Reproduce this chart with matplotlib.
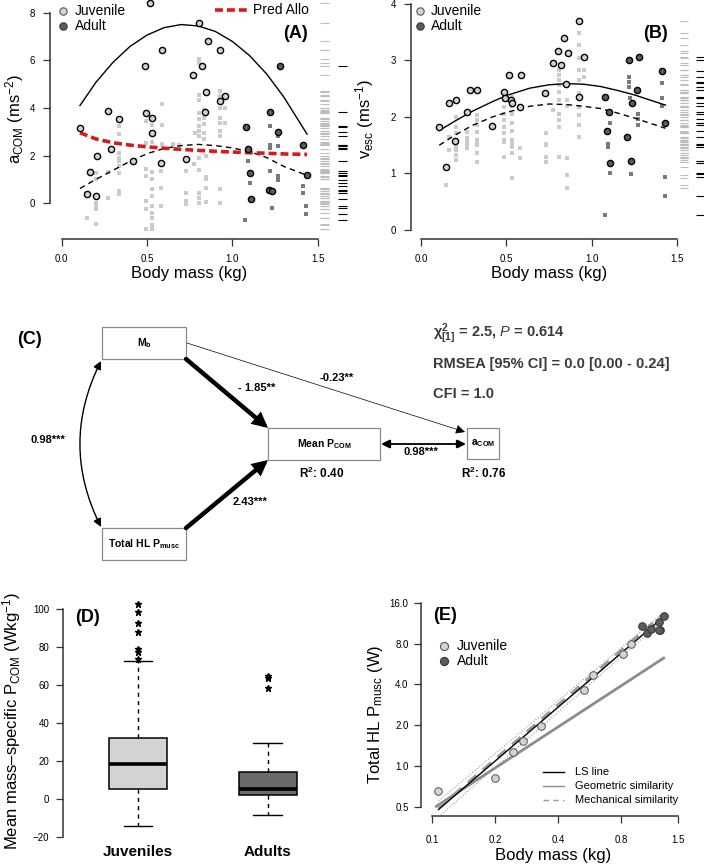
import matplotlib
matplotlib.use("Agg")
import matplotlib.pyplot as plt
import matplotlib.transforms as mtrans
from matplotlib.patches import FancyArrowPatch, Rectangle

plt.rcParams["font.family"] = ["Liberation Sans", "DejaVu Sans"]
plt.rcParams["mathtext.fontset"] = "custom"
plt.rcParams["mathtext.rm"] = "Liberation Sans"
plt.rcParams["mathtext.it"] = "Liberation Sans:italic"
plt.rcParams["mathtext.bf"] = "Liberation Sans:bold"
plt.rcParams["mathtext.default"] = "regular"

W, H = 704, 867

# ---- panel A: a_COM vs body mass ----
a_juv_mean_x = [0.107, 0.271, 0.333, 0.487, 0.515, 0.585, 0.493, 0.530, 0.530, 0.287,
                0.807, 0.856, 0.926, 0.819, 0.770, 0.848, 0.955, 0.930, 0.838,
                0.205, 0.164, 0.146, 0.203, 0.419, 0.579, 0.729]
a_juv_mean_y = [3.17, 3.89, 3.54, 5.77, 8.40, 6.44, 3.79, 3.58, 2.93, 2.28,
                7.56, 6.82, 6.44, 5.75, 5.40, 4.66, 4.49, 4.31, 3.82,
                1.98, 1.31, 0.38, 0.31, 1.77, 1.67, 1.87]
a_ad_mean_x = [1.277, 1.222, 1.080, 1.267, 1.413, 1.092, 1.105, 1.216, 1.234, 1.111, 1.437]
a_ad_mean_y = [5.77, 3.82, 3.19, 3.00, 2.43, 2.26, 1.28, 0.54, 0.51, 0.17, 1.17]
a_ad_trial_x = [1.092, 1.105, 1.222, 1.267, 1.267, 1.234, 1.076, 1.411, 1.411, 1.433,
                1.433, 1.222, 1.267, 1.222, 1.267, 1.222]
a_ad_trial_y = [1.77, 0.87, 1.35, 1.14, 0.97, -0.21, -0.71, 0.72, 0.42, -0.11,
                -0.46, 2.33, 2.40, 3.26, 2.82, 2.44]
a_juv_trial_x = [0.146,
                 0.203, 0.203, 0.203, 0.203, 0.203, 0.203,
                 0.271, 0.271,
                 0.335, 0.335, 0.335, 0.335, 0.335, 0.335, 0.335, 0.335, 0.335,
                 0.491, 0.491, 0.491, 0.491, 0.491, 0.491, 0.491,
                 0.530, 0.530, 0.530, 0.530, 0.530, 0.530, 0.530, 0.530, 0.530, 0.530, 0.530,
                 0.579, 0.579, 0.579, 0.585, 0.585, 0.585,
                 0.729, 0.729, 0.729, 0.729, 0.774, 0.780,
                 0.803, 0.803, 0.803, 0.803, 0.803, 0.803, 0.803, 0.803, 0.803, 0.803,
                 0.803, 0.803, 0.803, 0.803,
                 0.832, 0.832, 0.832, 0.832, 0.832,
                 0.848, 0.848, 0.848, 0.848, 0.848,
                 0.926, 0.926, 0.926, 0.926, 0.926, 0.926, 0.926, 0.926, 0.926,
                 0.955, 0.955, 0.650, 0.690]
a_juv_trial_y = [-0.63,
                 1.28, 1.00, 0.03, -0.11, -0.25, -0.88,
                 0.20, 1.30,
                 2.12, 1.91, 1.77, 1.56, 1.28, 0.51, 0.38, 3.26, 2.92,
                 1.42, 1.14, 0.10, -0.25, -1.06, 3.44, 2.54,
                 1.30, 1.00, 0.60, 0.30, -0.10, -0.40, -0.60, -0.90, -1.10, 3.30, 2.55,
                 1.35, 0.66, -0.11, 4.18, 3.30, 2.47,
                 1.35, 0.45, 0.10, -0.04, 1.63, 2.96,
                 1.38, 0.41, 0.24, 0.00, 1.91, 6.05, 5.89, 4.56, 4.35, 3.79,
                 3.54, 3.23, 3.03, 2.82,
                 3.93, 3.59, 3.31, 2.96, 2.68,
                 1.12, 1.00, 0.62, 0.05, 2.00,
                 0.59, 0.00, 4.70, 4.49, 4.00, 3.59, 3.38, 3.03, 2.82,
                 4.00, 3.38, 2.50, 2.45]
a_fit_x = [0.107, 0.2, 0.3, 0.4, 0.5, 0.6, 0.7, 0.8, 0.9, 1.0, 1.1, 1.2, 1.3, 1.437]
a_juv_fit_y = [4.10, 5.07, 5.91, 6.58, 7.06, 7.37, 7.50, 7.44, 7.21, 6.79, 6.20, 5.43, 4.47, 2.90]
a_ad_fit_y = [0.62, 1.00, 1.38, 1.76, 2.08, 2.30, 2.42, 2.47, 2.42, 2.32, 2.17, 1.92, 1.55, 1.17]
a_allo_y = [2.96, 2.70, 2.54, 2.44, 2.37, 2.31, 2.26, 2.22, 2.18, 2.15, 2.12, 2.10, 2.07, 2.05]

# ---- panel B: v_esc vs body mass ----
b_juv_mean_x = [0.107, 0.164, 0.205, 0.287, 0.329, 0.271, 0.201, 0.417, 0.487, 0.491,
                0.515, 0.528, 0.585, 0.579, 0.144,
                0.924, 0.838, 0.803, 0.858, 0.770, 0.817, 0.953, 0.846, 0.727, 0.926, 0.530]
b_juv_mean_y = [1.83, 2.24, 2.30, 2.47, 2.47, 2.08, 1.58, 1.84, 2.45, 2.33,
                2.75, 2.30, 2.75, 2.18, 1.11,
                3.70, 3.39, 3.17, 3.13, 2.96, 2.92, 3.07, 2.58, 2.43, 2.35, 2.25]
b_ad_mean_x = [1.076, 1.218, 1.275, 1.411, 1.267, 1.101, 1.236, 1.090, 1.208, 1.431, 1.109, 1.232]
b_ad_mean_y = [2.36, 3.01, 3.06, 2.82, 2.48, 2.09, 2.24, 1.75, 1.65, 1.90, 1.19, 1.23]
b_ad_trial_x = [1.218, 1.218, 1.218, 1.222, 1.271, 1.271, 1.271, 1.411, 1.411, 1.411,
                1.105, 1.095, 1.095, 1.095, 1.109, 1.232, 1.076, 1.431, 1.431]
b_ad_trial_y = [2.71, 2.62, 2.53, 2.33, 2.06, 1.97, 1.86, 2.60, 2.33, 2.19,
                1.90, 1.53, 1.47, 1.50, 1.00, 0.99, 0.27, 0.93, 0.60]
b_juv_trial_x = [0.144, 0.164, 0.164,
                 0.205, 0.205, 0.205, 0.205, 0.205, 0.205, 0.205, 0.205,
                 0.271, 0.271, 0.271, 0.271, 0.271,
                 0.329, 0.329, 0.329, 0.329, 0.329, 0.329, 0.329, 0.329, 0.329,
                 0.487, 0.487, 0.487, 0.487, 0.487, 0.487, 0.487, 0.487, 0.487,
                 0.530, 0.530, 0.530, 0.530, 0.530, 0.530, 0.530, 0.530, 0.530, 0.530,
                 0.579, 0.579,
                 0.729, 0.729, 0.729, 0.729, 0.729,
                 0.810, 0.810, 0.810, 0.810, 0.810, 0.810, 0.810, 0.810, 0.810, 0.810,
                 0.852, 0.852, 0.852, 0.852, 0.852,
                 0.924, 0.924, 0.924, 0.924, 0.924, 0.924, 0.924, 0.924, 0.924, 0.924,
                 0.953, 0.953, 0.774]
b_juv_trial_y = [0.80, 1.65, 1.42,
                 2.00, 1.83, 1.71, 1.59, 1.47, 1.42, 1.33, 1.24,
                 1.74, 1.63, 1.55, 1.53, 1.45,
                 2.04, 1.95, 1.86, 1.74, 1.59, 1.50, 1.53, 1.37, 1.21,
                 2.30, 2.18, 2.06, 1.95, 1.83, 1.71, 1.59, 1.56, 1.30,
                 2.36, 2.20, 2.05, 1.90, 1.75, 1.60, 1.53, 1.47, 1.36, 0.92,
                 1.45, 1.27,
                 1.71, 1.53, 1.50, 1.30, 1.21,
                 2.83, 2.74, 2.65, 2.57, 2.45, 2.30, 2.06, 1.95, 1.83, 1.30,
                 2.30, 2.20, 1.27, 0.97, 0.75,
                 3.48, 3.27, 3.04, 2.83, 2.65, 2.42, 2.18, 2.04, 1.86, 1.65,
                 2.83, 2.71, 2.12]
b_fit_x = [0.107, 0.2, 0.3, 0.417, 0.5, 0.637, 0.75, 0.85, 0.95, 1.05, 1.15, 1.25, 1.35, 1.431]
b_juv_fit_y = [1.76, 1.93, 2.10, 2.27, 2.38, 2.51, 2.57, 2.59, 2.58, 2.54, 2.47, 2.39, 2.29, 2.21]
b_ad_fit_y = [1.50, 1.68, 1.85, 2.00, 2.08, 2.19, 2.23, 2.22, 2.19, 2.15, 2.07, 1.98, 1.88, 1.80]

# ---- panel C: path model ----
c_coef_mb_pcom = "- 1.85**"
c_coef_pm_pcom = "2.43***"
c_coef_mb_acom = "-0.23**"
c_coef_pcom_acom = "0.98***"
c_coef_mb_pm = "0.98***"
c_r2_pcom = "0.40"
c_r2_acom = "0.76"
c_fit_lines = [r"$\chi^{2}_{[1]}$ = 2.5, $\mathit{P}$ = 0.614",
               "RMSEA [95% CI] = 0.0 [0.00 - 0.24]",
               "CFI = 1.0"]

# ---- panel D: boxplot of mass-specific P_COM ----
d_groups = ["Juveniles", "Adults"]
d_med = [18.3, 5.3]
d_q1 = [5.3, 2.1]
d_q3 = [32.3, 14.1]
d_whislo = [-14.0, -8.4]
d_whishi = [72.8, 29.6]
d_fliers = [[102.6, 98.4, 92.6, 88.0, 79.3, 77.7, 74.0], [64.9, 63.7, 58.7]]

# ---- panel E: total HL P_musc vs body mass ----
e_juv_x = [0.106, 0.199, 0.243, 0.272, 0.333, 0.530, 0.585, 0.817, 0.893]
e_juv_y = [0.648, 0.814, 1.26, 1.52, 1.98, 3.61, 4.71, 6.69, 7.97]
e_ad_x = [1.008, 1.064, 1.117, 1.211, 1.234, 1.220, 1.279]
e_ad_y = [10.7, 9.56, 10.29, 11.45, 10.11, 10.0, 12.8]
e_ls_x = [0.107, 1.28]
e_ls_y = [0.476, 12.6]
e_geo_x = [0.1045, 1.28]
e_geo_y = [0.503, 6.25]
e_mech_x = [0.107, 1.28]
e_mech_y = [0.49, 13.3]
e_ci_x = [0.107, 1.28]
e_ci_lo_y = [0.42, 12.0]
e_ci_hi_y = [0.55, 13.6]
e_line_labels = ["LS line", "Geometric similarity", "Mechanical similarity"]

JUV_FILL = "#d3d3d3"
JUV_TRIAL = "#cbcbcb"
AD_FILL = "#5c5c5c"
AD_TRIAL = "#7a7a7a"
AXC = "#333333"
RED = "#d7191c"
GEO = "#8c8c8c"
MECH = "#9a9a9a"


def rect(l, t, r, b):
    return [l / W, 1 - b / H, (r - l) / W, (b - t) / H]


def style_axis(ax, ypad=6):
    for s in ("top", "right"):
        ax.spines[s].set_visible(False)
    for s in ("left", "bottom"):
        ax.spines[s].set_linewidth(1.1)
        ax.spines[s].set_color(AXC)
    ax.tick_params(direction="out", length=5, width=0.9, labelsize=7, color=AXC)
    ax.tick_params(axis="x", pad=6)
    ax.tick_params(axis="y", pad=ypad)


def place_labels(ax, xl, yl):
    ax.xaxis.label.set_va("center")
    ax.yaxis.label.set_va("center")
    ax.xaxis.set_label_coords(*xl)
    ax.yaxis.set_label_coords(*yl)


def scatter_panel(ax, jt, at, jm, am, fits, rug_w):
    ax.scatter(*jt, s=7, marker="s", color=JUV_TRIAL, lw=0, zorder=2)
    ax.scatter(*at, s=7, marker="s", color=AD_TRIAL, lw=0, zorder=2)
    for fx, fy, ls, lw, col in fits:
        ax.plot(fx, fy, ls=ls, lw=lw, color=col, zorder=3)
    ax.scatter(*jm, s=20, color=JUV_FILL, edgecolor="black", lw=1.0, zorder=4)
    ax.scatter(*am, s=20, color=AD_FILL, edgecolor="black", lw=1.0, zorder=4)
    trans = mtrans.blended_transform_factory(ax.transAxes, ax.transData)
    ax.hlines(jt[1] + jm[1], 1.0, 1.0 + rug_w, transform=trans,
              color="#bdbdbd", lw=0.8, clip_on=False)
    ax.hlines(at[1] + am[1], 1.0 + 2 * rug_w, 1.0 + 3 * rug_w, transform=trans,
              color="black", lw=0.8, clip_on=False)
    ax.set_xticks([0, 0.5, 1.0, 1.5], ["0.0", "0.5", "1.0", "1.5"])
    ax.spines["bottom"].set_bounds(0, 1.5)
    ax.set_xlabel("Body mass (kg)", fontsize=12)
    style_axis(ax)


def marker_key(ov, x, y, xt, ms=28):
    # Juvenile / Adult key drawn in figure pixels
    ov.scatter([x], [y], s=ms, color=JUV_FILL, edgecolor="#555555", lw=0.8, clip_on=False)
    ov.scatter([x], [y + 15], s=ms, color=AD_FILL, edgecolor="#333333", lw=0.8, clip_on=False)
    ov.text(xt, y, "Juvenile", fontsize=10, va="center", ha="left")
    ov.text(xt, y + 15, "Adult", fontsize=10, va="center", ha="left")


def main():
    fig = plt.figure(figsize=(W / 100, H / 100), dpi=100)

    # Panel A
    ax = fig.add_axes(rect(50, 0, 320, 239))
    ax.set_xlim(-0.0685, 1.513)
    ax.set_ylim(-1.50, 8.53)
    scatter_panel(ax, (a_juv_trial_x, a_juv_trial_y), (a_ad_trial_x, a_ad_trial_y),
                  (a_juv_mean_x, a_juv_mean_y), (a_ad_mean_x, a_ad_mean_y),
                  [(a_fit_x, a_juv_fit_y, "-", 1.0, "black"),
                   (a_fit_x, a_ad_fit_y, (0, (4, 3)), 1.0, "black"),
                   (a_fit_x, a_allo_y, (0, (2.2, 1.1)), 2.6, RED)], 0.033)
    ax.set_yticks([0, 2, 4, 6, 8], ["0", "2", "4", "6", "8"])
    ax.spines["left"].set_bounds(0, 8)
    ax.set_ylabel(r"a$_{\mathrm{COM}}$ (ms$^{-2}$)", fontsize=12)
    place_labels(ax, (0.517, -0.146), (-0.13, 0.5))

    # Panel B
    ax = fig.add_axes(rect(411, 0, 680, 239))
    ax.set_xlim(-0.0585, 1.516)
    ax.set_ylim(-0.159, 4.07)
    scatter_panel(ax, (b_juv_trial_x, b_juv_trial_y), (b_ad_trial_x, b_ad_trial_y),
                  (b_juv_mean_x, b_juv_mean_y), (b_ad_mean_x, b_ad_mean_y),
                  [(b_fit_x, b_juv_fit_y, "-", 1.0, "black"),
                   (b_fit_x, b_ad_fit_y, (0, (4, 3)), 1.0, "black")], 0.03)
    ax.set_yticks([0, 1, 2, 3, 4], ["0", "1", "2", "3", "4"])
    ax.spines["left"].set_bounds(0, 4)
    ax.set_ylabel(r"v$_{\mathrm{esc}}$ (ms$^{-1}$)", fontsize=12)
    place_labels(ax, (0.512, -0.146), (-0.171, 0.5))

    # Panel D
    ax = fig.add_axes(rect(63, 600, 340, 842))
    stats = []
    for i, name in enumerate(d_groups):
        stats.append(dict(label=name, med=d_med[i], q1=d_q1[i], q3=d_q3[i],
                          whislo=d_whislo[i], whishi=d_whishi[i], fliers=d_fliers[i]))
    bp = ax.bxp(stats, positions=[1, 2], widths=0.446, patch_artist=True,
                boxprops=dict(lw=1.1, ec="black"),
                medianprops=dict(color="black", lw=2.6, solid_capstyle="butt"),
                whiskerprops=dict(ls=(0, (3, 3)), lw=1.0, color="black"),
                capprops=dict(lw=1.0, color="black"), capwidths=0.223,
                flierprops=dict(marker="*", ms=5, mfc="black", mec="black", ls="none"))
    for patch, col in zip(bp["boxes"], [JUV_FILL, "#6a6a6a"]):
        patch.set_facecolor(col)
    ax.set_xlim(0.423, 2.554)
    ax.set_ylim(-22.7, 104.9)
    style_axis(ax, ypad=5)
    ax.spines["bottom"].set_visible(False)
    ax.spines["left"].set_bounds(-20, 100)
    ax.set_yticks([-20, 0, 20, 40, 60, 80, 100], ["\u221220", "0", "20", "40", "60", "80", "100"])
    ax.tick_params(axis="x", length=0, labelsize=11, pad=2)
    for lab in ax.get_xticklabels():
        lab.set_fontweight("bold")
    ax.set_ylabel("Mean mass\u2013specific P$_{\\mathrm{COM}}$ (Wkg$^{-1}$)", fontsize=12)
    place_labels(ax, (0.5, -0.1), (-0.184, 0.5))

    # Panel E
    ax = fig.add_axes(rect(421, 590, 690, 816))
    ax.set_xscale("log")
    ax.set_yscale("log", base=2)
    ax.set_xlim(0.0883, 1.71)
    ax.set_ylim(0.427, 19.86)
    ax.plot(e_ci_x, e_ci_lo_y, ls=":", lw=0.8, color=MECH, zorder=2)
    ax.plot(e_ci_x, e_ci_hi_y, ls=":", lw=0.8, color=MECH, zorder=2)
    ax.plot(e_geo_x, e_geo_y, ls="-", lw=2.0, color=GEO, zorder=2)
    ax.plot(e_mech_x, e_mech_y, ls=(0, (4, 3)), lw=2.0, color=MECH, zorder=2)
    ax.plot(e_ls_x, e_ls_y, ls="-", lw=1.0, color="black", zorder=3)
    ax.scatter(e_juv_x, e_juv_y, s=30, color=JUV_FILL, edgecolor="#555555", lw=0.7, zorder=4)
    ax.scatter(e_ad_x, e_ad_y, s=30, color=AD_FILL, edgecolor="#333333", lw=0.7, zorder=4)
    style_axis(ax, ypad=4)
    ax.set_xticks([0.1, 0.2, 0.4, 0.8, 1.5], ["0.1", "0.2", "0.4", "0.8", "1.5"])
    ax.set_yticks([0.5, 1, 2, 4, 8, 16], ["0.5", "1.0", "2.0", "4.0", "8.0", "16.0"])
    ax.minorticks_off()
    ax.spines["bottom"].set_bounds(0.1, 1.5)
    ax.spines["left"].set_bounds(0.5, 16)
    ax.tick_params(axis="x", pad=9)
    ax.set_xlabel("Body mass (kg)", fontsize=12)
    ax.set_ylabel(r"Total HL P$_{\mathrm{musc}}$ (W)", fontsize=12)
    place_labels(ax, (0.491, -0.173), (-0.171, 0.45))

    # Overlay in figure pixels: panel C diagram, legends and panel letters
    ov = fig.add_axes([0, 0, 1, 1], facecolor="none")
    ov.set_xlim(0, W)
    ov.set_ylim(H, 0)
    ov.axis("off")

    marker_key(ov, 63, 11, 75)
    ov.plot([215, 248], [10, 10], ls=(0, (2.2, 1.1)), lw=2.6, color=RED)
    ov.text(253, 10, "Pred Allo", fontsize=10, va="center", ha="left")
    marker_key(ov, 420, 11, 431)
    marker_key(ov, 444, 646, 457, ms=34)
    for i, (lab, col, ls) in enumerate(zip(e_line_labels, ["black", GEO, MECH],
                                           ["-", "-", (0, (4, 3))])):
        yy = 772 + 14 * i
        ov.plot([543, 564], [yy, yy], color=col, ls=ls, lw=1.0)
        ov.text(575, yy, lab, fontsize=8, va="center", ha="left")

    letters = {"(A)": (296, 33), "(B)": (656, 34), "(C)": (30, 340),
               "(D)": (88, 617), "(E)": (445, 615)}
    for txt, (x, y) in letters.items():
        ov.text(x, y, txt, fontsize=13, fontweight="bold", ha="center", va="center")

    boxes = {"mb": (102, 327, 186, 359), "pcom": (268, 428, 380, 460),
             "acom": (467, 428, 499, 459), "pm": (102, 528, 186, 560)}
    labels = {"mb": r"$\mathbf{M_b}$", "pcom": r"$\mathbf{Mean\ P_{COM}}$",
              "acom": r"$\mathbf{a_{COM}}$", "pm": r"$\mathbf{Total\ HL\ P_{musc}}$"}
    for key, (l, t, r, b) in boxes.items():
        ov.add_patch(Rectangle((l, t), r - l, b - t, fill=False, ec="#8a8a8a", lw=0.9))
        ov.text((l + r) / 2, (t + b) / 2, labels[key], ha="center", va="center", fontsize=7.5)

    def arrow(p0, p1, lw, ms, style="-|>", cs="arc3"):
        ov.add_patch(FancyArrowPatch(p0, p1, arrowstyle=style, mutation_scale=ms, lw=lw,
                                     color="black", shrinkA=0, shrinkB=0,
                                     connectionstyle=cs, joinstyle="miter"))

    arrow((186, 359), (268, 428), 3.2, 16)
    arrow((186, 528), (268, 460), 3.2, 16)
    arrow((187, 343), (465, 432), 0.5, 14)
    arrow((381, 444), (466, 444), 1.3, 13, "<|-|>")
    arrow((101, 361), (101, 527), 1.0, 12, "<|-|>", "arc3,rad=0.25")

    kw = dict(fontsize=8, fontweight="bold", ha="center", va="center")
    ov.text(48, 440, c_coef_mb_pm, **kw)
    ov.text(257, 388, c_coef_mb_pcom, **kw)
    ov.text(337, 378, c_coef_mb_acom, **kw)
    ov.text(250, 502, c_coef_pm_pcom, **kw)
    ov.text(421, 452, c_coef_pcom_acom, **kw)
    ov.text(322, 473, r"$\mathbf{R^{2}}$: " + c_r2_pcom, fontsize=8.5,
            fontweight="bold", ha="center", va="center")
    ov.text(484, 473, r"$\mathbf{R^{2}}$: " + c_r2_acom, fontsize=8.5,
            fontweight="bold", ha="center", va="center")
    for i, line in enumerate(c_fit_lines):
        ov.text(433, 334 + 30 * i, line, fontsize=10.5, fontweight="bold", color="#3a3a3a",
                ha="left", va="center")

    fig.savefig("out.png", dpi=100)


if __name__ == "__main__":
    main()
